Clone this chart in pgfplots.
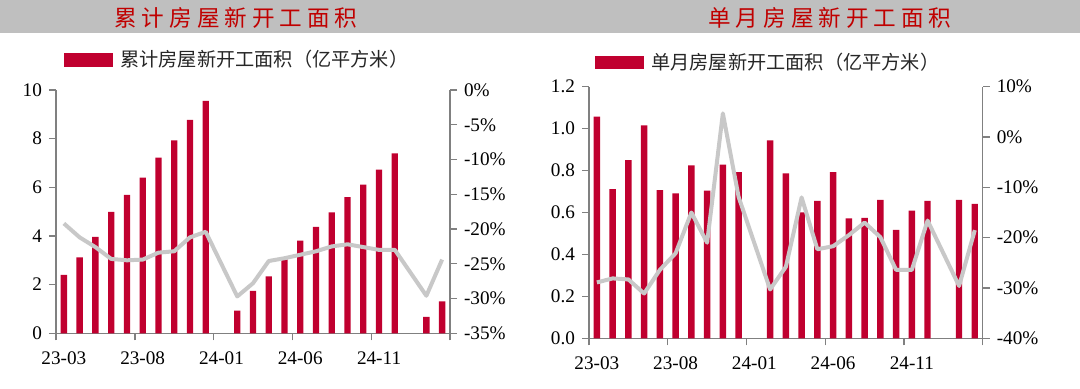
\documentclass[border=0pt]{standalone}
\usepackage{pgfplots}
\pgfplotsset{compat=1.18}
\usepackage{fontspec}
\setmainfont{Liberation Serif}
\newfontfamily\cjk{Noto Sans CJK SC}
\newfontfamily\titlefont[LetterSpace=22]{Noto Sans CJK SC}
\definecolor{barred}{HTML}{C0002F}
\definecolor{linegrey}{HTML}{C8C8C8}
\definecolor{axgrey}{HTML}{808080}
\definecolor{bandgrey}{HTML}{BFBFBF}
\definecolor{titlered}{HTML}{C00000}

\pgfplotstableread{
x y
0 2.40
1 3.12
2 3.96
3 4.99
4 5.69
5 6.40
6 7.22
7 7.93
8 8.77
9 9.55
11 0.93
12 1.74
13 2.34
14 3.04
15 3.81
16 4.37
17 4.97
18 5.60
19 6.11
20 6.73
21 7.40
23 0.67
24 1.31
}\cumbars

\pgfplotstableread{
x y
0 -19.2
1 -21.2
2 -22.6
3 -24.3
4 -24.5
5 -24.4
6 -23.4
7 -23.2
8 -21.2
9 -20.4
11 -29.7
12 -27.8
13 -24.6
14 -24.2
15 -23.7
16 -23.2
17 -22.5
18 -22.2
19 -22.6
20 -23.0
21 -23.0
23 -29.6
24 -24.4
}\cumline

\pgfplotstableread{
x y
0 1.057
1 0.712
2 0.850
3 1.016
4 0.707
5 0.691
6 0.825
7 0.704
8 0.828
9 0.793
11 0.944
12 0.787
13 0.600
14 0.656
15 0.793
16 0.572
17 0.574
18 0.660
19 0.517
20 0.609
21 0.656
23 0.660
24 0.641
}\monbars

\pgfplotstableread{
x y
0 -28.9
1 -28.1
2 -28.3
3 -31.1
4 -26.4
5 -23.1
6 -15.0
7 -21.0
8 4.7
9 -11.9
11 -30.3
12 -25.8
13 -12.0
14 -22.3
15 -21.7
16 -19.5
17 -17.0
18 -19.9
19 -26.4
20 -26.4
21 -16.6
23 -29.6
24 -18.5
}\monline

\pgfplotsset{
  base/.style={
    scale only axis,
    anchor=south west,
    xmin=-0.5, xmax=24.5,
    tick align=outside,
    major tick length=3.5pt,
    axis line style={axgrey, line width=0.7pt},
    tick style={axgrey, line width=0.7pt},
    tick label style={font=\fontsize{9.6}{11}\selectfont, text=black},
    /pgf/number format/assume math mode=true,
    clip=false,
  },
  barax/.style={
    base,
    axis x line*=bottom, axis y line*=left,
    xtick={-0.5,4.5,9.5,14.5,19.5,24.5}, xticklabels={},
    extra x ticks={0,5,10,15,20},
    extra x tick labels={23-03,23-08,24-01,24-06,24-11},
    extra x tick style={major tick length=0pt, xticklabel style={yshift=-5.5pt}},
    ybar, bar width=0.4,
    legend style={draw=none, fill=none, inner sep=0pt, anchor=west,
      font=\cjk\fontsize{9.6}{10}\selectfont, text=black!85,
      /tikz/every even column/.append style={column sep=0pt}},
    legend image code/.code={\fill[barred] (0pt,-3.3pt) rectangle (24.5pt,3.3pt);},
  },
  lineax/.style={
    base,
    axis x line=none, axis y line*=right,
  },
}

\begin{document}
\begin{tikzpicture}
\useasboundingbox (0pt,0pt) rectangle (540pt,194.5pt);
\fill[bandgrey] (0pt,178pt) rectangle (540pt,194.5pt);
\node[text=titlered, font=\titlefont\fontsize{11.3}{12}\selectfont] at (118pt,185.5pt) {累计房屋新开工面积};
\node[text=titlered, font=\titlefont\fontsize{11.3}{12}\selectfont] at (415pt,185.5pt) {单月房屋新开工面积};

% left panel
\begin{axis}[barax, at={(28pt,27.85pt)}, width=197pt, height=121.65pt,
  ymin=0, ymax=10, ytick={0,2,4,6,8,10},
  legend style={at={(0.02,1.123)}}]
\addplot[fill=barred, draw=none] table[x=x,y=y] {\cumbars};
\addlegendentry{\hspace{1.5pt}累计房屋新开工面积（亿平方米）}
\end{axis}
\begin{axis}[lineax, at={(28pt,27.85pt)}, width=197pt, height=121.65pt,
  ymin=-35, ymax=0, ytick={-35,-30,-25,-20,-15,-10,-5,0},
  yticklabels={-35\%,-30\%,-25\%,-20\%,-15\%,-10\%,-5\%,0\%}]
\addplot[linegrey, line width=2pt, line join=round] table[x=x,y=y] {\cumline};
\end{axis}

% right panel
\begin{axis}[barax, at={(294.5pt,25.35pt)}, width=196.85pt, height=125.8pt,
  ymin=0, ymax=1.2, ytick={0,0.2,0.4,0.6,0.8,1.0,1.2},
  yticklabel style={/pgf/number format/.cd, fixed, fixed zerofill, precision=1},
  legend style={at={(0.015,1.095)}}]
\addplot[fill=barred, draw=none] table[x=x,y=y] {\monbars};
\addlegendentry{\hspace{1.5pt}单月房屋新开工面积（亿平方米）}
\end{axis}
\begin{axis}[lineax, at={(294.5pt,25.35pt)}, width=196.85pt, height=125.8pt,
  ymin=-40, ymax=10, ytick={-40,-30,-20,-10,0,10},
  yticklabels={-40\%,-30\%,-20\%,-10\%,0\%,10\%}]
\addplot[linegrey, line width=2pt, line join=round] table[x=x,y=y] {\monline};
\end{axis}
\end{tikzpicture}
\end{document}
